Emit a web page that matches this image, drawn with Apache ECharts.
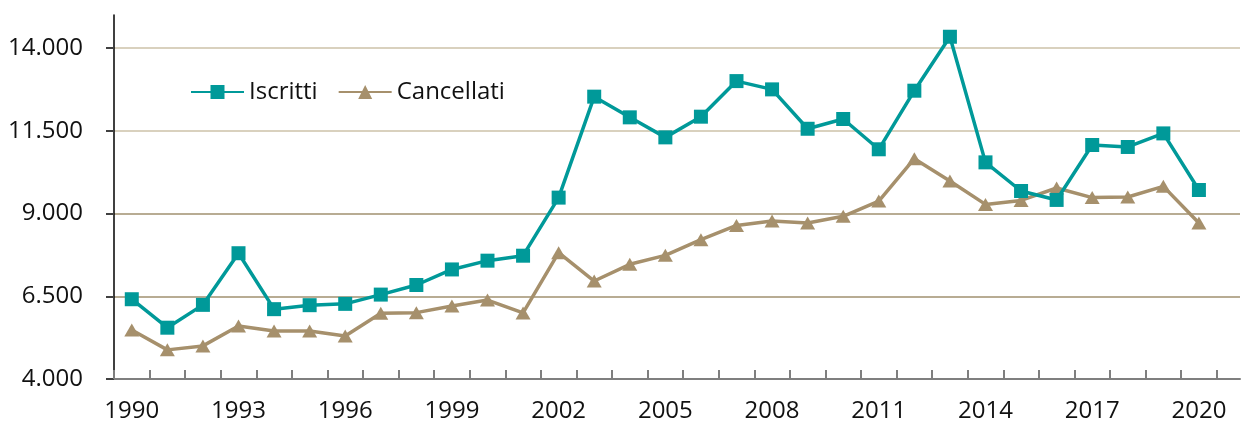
<!DOCTYPE html>
<html>
<head>
<meta charset="utf-8">
<script src="https://cdn.jsdelivr.net/npm/echarts@6/dist/echarts.min.js"></script>
<style>
  html, body { margin: 0; padding: 0; background: #ffffff; }
  #chart { width: 1243px; height: 426px; }
</style>
</head>
<body>
<div id="chart"></div>
<script>
// ---- data ----
const years = ['1990','1991','1992','1993','1994','1995','1996','1997','1998','1999',
               '2000','2001','2002','2003','2004','2005','2006','2007','2008','2009',
               '2010','2011','2012','2013','2014','2015','2016','2017','2018','2019','2020'];
const iscritti = [6410, 5550, 6240, 7800, 6110, 6230, 6270, 6550, 6840, 7310,
                  7575, 7725, 9480, 12530, 11905, 11300, 11925, 13000, 12750, 11560,
                  11855, 10940, 12710, 14340, 10545, 9680, 9410, 11070, 11010, 11420, 9710];
const cancellati = [5480, 4880, 5000, 5600, 5450, 5450, 5300, 5985, 6005, 6205,
                    6385, 5995, 7815, 6960, 7465, 7735, 8210, 8640, 8775, 8715,
                    8915, 9375, 10655, 9980, 9275, 9395, 9770, 9480, 9500, 9820, 8715];
const yTickLabels = ['4.000', '6.500', '9.000', '11.500', '14.000'];
const yMin = 4000, yMax = 15000;
const seriesNames = ['Iscritti', 'Cancellati'];

// ---- styles ----
const FONT = '"Open Sans"';
const FS = 24;
const TEXT = '#111111';
const TEAL = '#009999';
const TAN = '#A6906C';
const GRID_DARK = '#A0906F';
const GRID_LIGHT = '#CDC2A8';

const chart = echarts.init(document.getElementById('chart'), null, { renderer: 'canvas' });
chart.setOption({
  backgroundColor: '#ffffff',
  animation: false,
  textStyle: { fontFamily: FONT },
  legend: {
    data: seriesNames,
    left: 185, top: 75,
    itemWidth: 53, itemHeight: 17.5, itemGap: 20,
    textStyle: { fontFamily: FONT, fontSize: FS, color: TEXT }
  },
  grid: [
    // grid 0: y tick labels, split lines and the long x axis line
    { left: 114, right: 3, top: 48, bottom: 47, containLabel: false },
    // grid 1: data
    { left: 114, right: 26.3, top: 14.9, bottom: 47, containLabel: false }
  ],
  xAxis: [
    {
      gridIndex: 0, type: 'value', min: 0, max: 1,
      axisLine: { show: true, lineStyle: { color: '#7F7F7F', width: 2 } },
      axisTick: { show: false }, axisLabel: { show: false }, splitLine: { show: false }
    },
    {
      gridIndex: 1, type: 'category', data: years, boundaryGap: true,
      axisLine: { show: false },
      axisTick: { show: true, inside: true, length: 9, interval: 0,
                  lineStyle: { color: '#7F7F7F', width: 2 } },
      axisLabel: { interval: 2, margin: 20, fontFamily: FONT, fontSize: FS, color: TEXT },
      splitLine: { show: false }
    }
  ],
  yAxis: [
    {
      gridIndex: 0, type: 'category', data: yTickLabels, boundaryGap: false,
      axisLine: { show: false },
      axisTick: { show: true, inside: false, length: 8, interval: 0,
                  lineStyle: { color: '#404040', width: 2 } },
      axisLabel: { interval: 0, margin: 31, fontFamily: FONT, fontSize: FS, color: TEXT },
      splitLine: { show: true, interval: 0,
                   lineStyle: { width: 1.5, color: ['#7F7F7F', GRID_DARK, GRID_DARK, GRID_LIGHT, GRID_LIGHT] } }
    },
    {
      gridIndex: 1, type: 'value', min: yMin, max: yMax,
      axisLine: { show: true, lineStyle: { color: '#000000', width: 1.5 } },
      axisTick: { show: false }, axisLabel: { show: false }, splitLine: { show: false }
    }
  ],
  series: [
    {
      name: seriesNames[0], type: 'line', xAxisIndex: 1, yAxisIndex: 1,
      data: iscritti,
      symbol: 'rect', symbolSize: 14,
      lineStyle: { color: TEAL, width: 3.5 },
      itemStyle: { color: TEAL },
      z: 4
    },
    {
      name: seriesNames[1], type: 'line', xAxisIndex: 1, yAxisIndex: 1,
      data: cancellati,
      symbol: 'triangle', symbolSize: [15, 13],
      lineStyle: { color: TAN, width: 3.5 },
      itemStyle: { color: TAN },
      z: 3
    }
  ]
});
</script>
</body>
</html>
